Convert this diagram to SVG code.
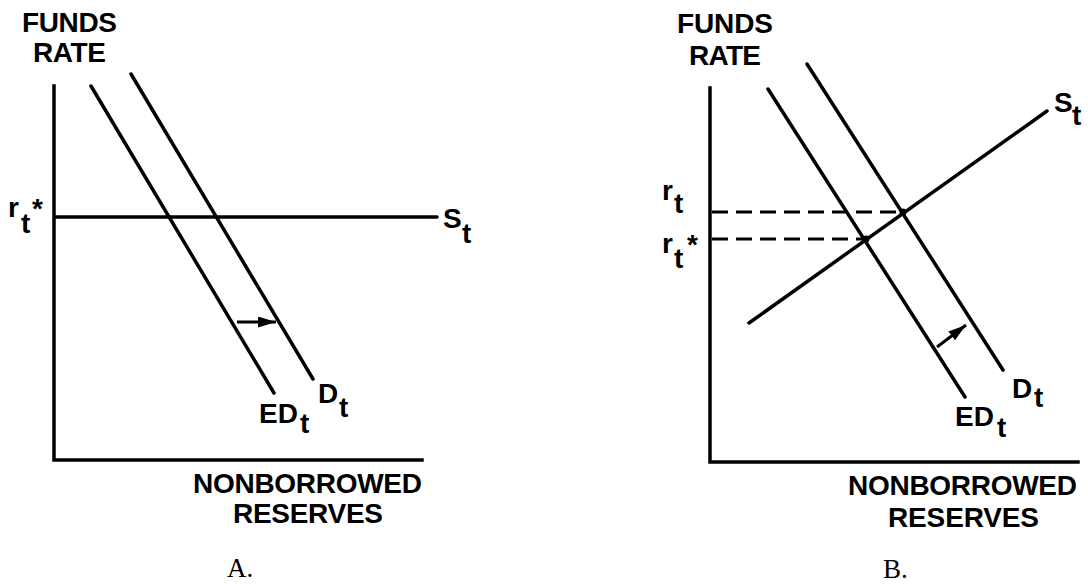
<svg xmlns="http://www.w3.org/2000/svg" width="1088" height="585" viewBox="0 0 1088 585">
<defs>
<style>
.ln{stroke:#000;stroke-width:3.5;fill:none;stroke-linecap:round}
.ax{stroke:#000;stroke-width:3.5;fill:none;stroke-linecap:square}
.ar{stroke:#000;stroke-width:3;fill:none}
.ds{stroke:#000;stroke-width:3;fill:none;stroke-dasharray:16 8}
.t{font-family:"Liberation Sans",Arial,Helvetica,sans-serif;font-weight:bold;font-size:28px;fill:#000}
.c{font-family:"Liberation Serif","Times New Roman",serif;font-size:27px;fill:#000}
</style>
<marker id="ah" markerUnits="userSpaceOnUse" markerWidth="19" markerHeight="11" refX="18" refY="5.5" orient="auto">
<path d="M0,0 L18,5.5 L0,11 z" fill="#000"/>
</marker>
</defs>
<rect width="1088" height="585" fill="#fff"/>

<g id="panelA">
<g id="A-axes">
<path class="ax" d="M54,86 L54,460 L422,460"/>
<text class="t" x="22" y="32" textLength="95">FUNDS</text>
<text class="t" x="33" y="62" textLength="73">RATE</text>
<text class="t" x="193" y="493" textLength="229">NONBORROWED</text>
<text class="t" x="233" y="523" textLength="150">RESERVES</text>
</g>
<g id="A-supply">
<line class="ln" x1="55" y1="217" x2="437" y2="217"/>
<text class="t" x="443" y="228">S</text>
<text class="t" x="462" y="243">t</text>
<text class="t" x="8" y="217">r</text>
<text class="t" x="21" y="233">t</text>
<text class="t" x="32" y="218">*</text>
</g>
<g id="A-ED">
<line class="ln" x1="91" y1="86" x2="274" y2="393"/>
<text class="t" x="259" y="423">ED</text>
<text class="t" x="300" y="433">t</text>
</g>
<g id="A-D">
<line class="ln" x1="131" y1="74" x2="313" y2="379"/>
<text class="t" x="318" y="403">D</text>
<text class="t" x="339" y="417">t</text>
</g>
<text class="c" x="227" y="577">A.</text>
</g>

<g id="panelB">
<g id="B-axes">
<path class="ax" d="M710,88 L710,462 L1078,462"/>
<text class="t" x="677" y="33" textLength="96">FUNDS</text>
<text class="t" x="689" y="65" textLength="72">RATE</text>
<text class="t" x="848" y="495" textLength="229">NONBORROWED</text>
<text class="t" x="888" y="527" textLength="151">RESERVES</text>
</g>
<g id="B-supply">
<line class="ln" x1="749" y1="323" x2="1047" y2="111"/>
<text class="t" x="1054" y="112">S</text>
<text class="t" x="1072" y="125">t</text>
</g>
<g id="B-ED">
<line class="ln" x1="768" y1="89" x2="965" y2="397"/>
<text class="t" x="955" y="426">ED</text>
<text class="t" x="997" y="437">t</text>
</g>
<g id="B-D">
<line class="ln" x1="807" y1="64" x2="1003" y2="370"/>
<text class="t" x="1012" y="398">D</text>
<text class="t" x="1034" y="407">t</text>
</g>
<g id="B-levels">
<text class="t" x="662" y="200">r</text>
<text class="t" x="674" y="213">t</text>
<text class="t" x="662" y="253">r</text>
<text class="t" x="674" y="268">t</text>
<text class="t" x="687" y="254">*</text>
<circle cx="903" cy="212" r="3.5" fill="#000"/>
<circle cx="866" cy="239" r="3.5" fill="#000"/>
</g>
<text class="c" x="883" y="578">B.</text>
</g>

<g id="connectors">
<line class="ds" x1="712" y1="212" x2="903" y2="212"/>
<line class="ds" x1="712" y1="239" x2="866" y2="239"/>
<line class="ar" x1="237" y1="322" x2="276" y2="322" marker-end="url(#ah)"/>
<line class="ar" x1="937" y1="347" x2="966" y2="325" marker-end="url(#ah)"/>
</g>
</svg>
